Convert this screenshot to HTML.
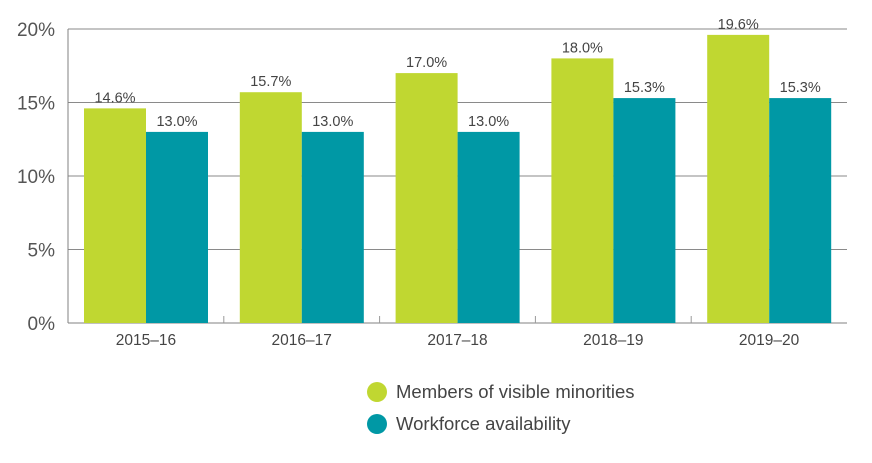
<!DOCTYPE html>
<html><head><meta charset="utf-8"><style>
body{margin:0;background:#fff;}
svg{display:block;font-family:"Liberation Sans",sans-serif;}
</style></head><body>
<svg id="chart" width="872" height="463"></svg>
<script>
const categories=["2015–16","2016–17","2017–18","2018–19","2019–20"];
const minorities=[14.6,15.7,17.0,18.0,19.6];
const availability=[13.0,13.0,13.0,15.3,15.3];
const yTicks=[0,5,10,15,20];
const NS="http://www.w3.org/2000/svg";
const svg=document.getElementById("chart");
const x0=68,x1=847,yBase=323,yTop=29,band=(x1-x0)/categories.length,bw=62;
const y=v=>yBase-(v/20)*(yBase-yTop);
function mk(tag,attrs,text){const e=document.createElementNS(NS,tag);for(const k in attrs)e.setAttribute(k,attrs[k]);if(text!==undefined)e.textContent=text;svg.appendChild(e);return e;}
yTicks.forEach(t=>{
 const g=mk("line",{x1:x0,x2:x1,y1:y(t),y2:y(t),stroke:t===0?"#808080":"#8a8a8a","stroke-width":1});
 
 
 const l=mk("text",{x:55,y:y(t)+7,"text-anchor":"end","font-size":19,fill:"#555"},t+"%");
 
 
});
const ax=mk("line",{x1:x0,x2:x0,y1:yTop,y2:yBase,stroke:"#808080","stroke-width":1});


categories.forEach((c,i)=>{
 const bx=x0+band*i+16;
 const g=mk("rect",{x:bx,y:y(minorities[i]),width:bw,height:yBase-y(minorities[i]),fill:"#c0d731"});
 
 
 const t=mk("rect",{x:bx+bw,y:y(availability[i]),width:bw,height:yBase-y(availability[i]),fill:"#0098a5"});
 
 
 const l1=mk("text",{x:bx+bw/2,y:y(minorities[i])-6,"text-anchor":"middle","font-size":14.5,fill:"#444"},minorities[i].toFixed(1)+"%");
 
 
 const l2=mk("text",{x:bx+bw*1.5,y:y(availability[i])-6,"text-anchor":"middle","font-size":14.5,fill:"#444"},availability[i].toFixed(1)+"%");
 
 
 const xl=mk("text",{x:x0+band*(i+0.5),y:345,"text-anchor":"middle","font-size":15.5,fill:"#444"},c);
 
 
 if(i>0){const tk=mk("line",{x1:x0+band*i,x2:x0+band*i,y1:316,y2:yBase,stroke:"#999"});
 
 }
});
const legend=[["Members of visible minorities","#c0d731",392],["Workforce availability","#0098a5",424]];
legend.forEach(([n,col,ly])=>{
 const c=mk("circle",{cx:377,cy:ly,r:10,fill:col});
 
 
 const t=mk("text",{x:396,y:ly+6,"font-size":18.5,fill:"#444"},n);
 
 
});
</script>
</body></html>
